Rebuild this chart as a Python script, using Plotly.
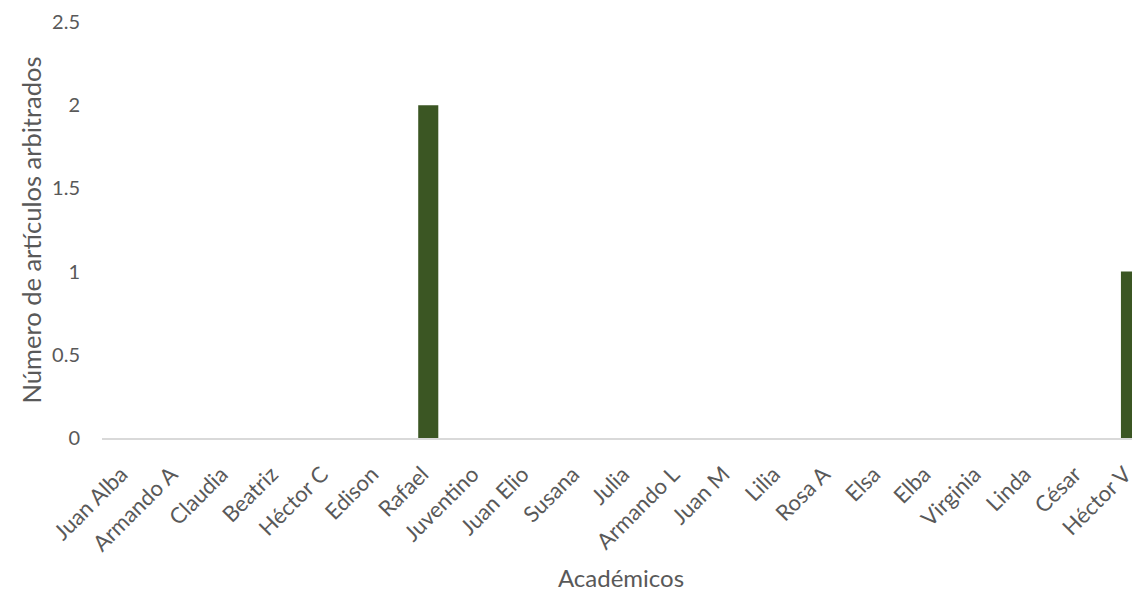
import plotly.graph_objects as go

academicos = ["Juan Alba", "Armando A", "Claudia", "Beatriz", "Héctor C", "Edison", "Rafael",
              "Juventino", "Juan Elio", "Susana", "Julia", "Armando L", "Juan M", "Lilia",
              "Rosa A", "Elsa", "Elba", "Virginia", "Linda", "César", "Héctor V"]
articulos = [0, 0, 0, 0, 0, 0, 2, 0, 0, 0, 0, 0, 0, 0, 0, 0, 0, 0, 0, 0, 1]
y_ticks = [0, 0.5, 1, 1.5, 2, 2.5]
y_ticktext = ["0", "0.5", "1", "1.5", "2", "2.5"]

font = "Lato, 'Open Sans', sans-serif"
gray = "#595959"

fig = go.Figure(go.Bar(
    x=list(range(len(academicos))), y=articulos,
    marker=dict(color="#3b5623", line=dict(width=0)),
    width=0.4,
))

fig.update_layout(
    width=1132, height=584,
    margin=dict(l=94, r=0, t=14, b=154),
    paper_bgcolor="white", plot_bgcolor="white",
    showlegend=False,
    font=dict(family=font, color=gray),
    xaxis=dict(
        tickmode="array", tickvals=list(range(len(academicos))), ticktext=academicos,
        tickangle=-45, tickfont=dict(size=22, color=gray),
        range=[-0.5, 20.18], automargin=False, ticklabeloverflow="allow",
        ticklabelshift=-6,
        showline=True, linecolor="#d9d9d9", linewidth=1.5,
        showgrid=False, ticks="outside", ticklen=13, tickcolor="rgba(0,0,0,0)", zeroline=False,
        title=dict(text="Académicos", font=dict(size=24, color=gray), standoff=19),
    ),
    yaxis=dict(
        range=[0, 2.5], tickvals=y_ticks, ticktext=y_ticktext, automargin=False,
        tickfont=dict(size=20, color=gray),
        showgrid=False, zeroline=False, showline=False, ticks="outside",
        ticklen=17, tickcolor="rgba(0,0,0,0)",
        title=dict(text="Número de artículos arbitrados", font=dict(size=25.5, color=gray), standoff=3),
    ),
)

fig.write_html("out.html")
